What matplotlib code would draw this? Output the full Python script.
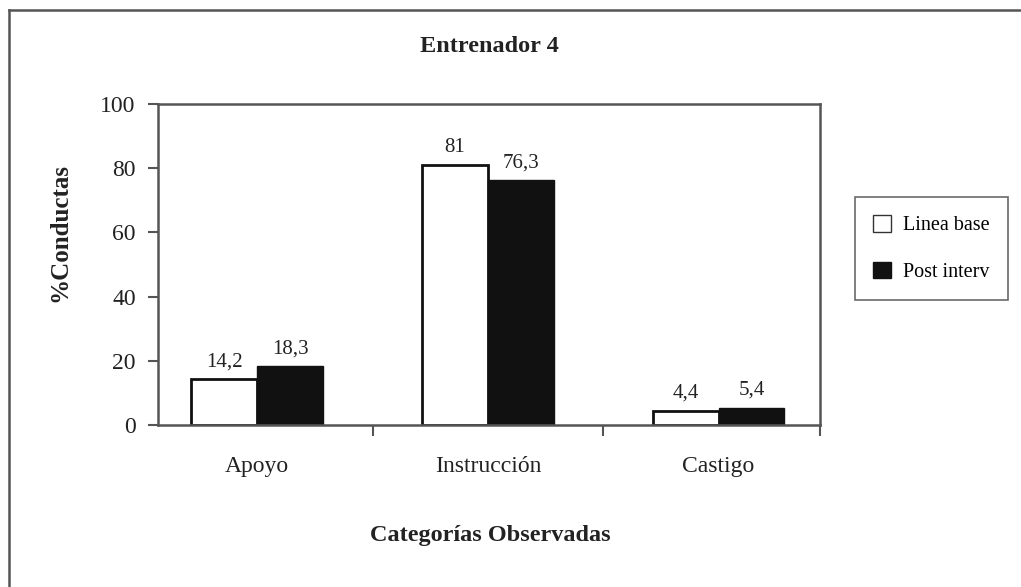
import matplotlib
matplotlib.use("Agg")
import matplotlib.pyplot as plt
from matplotlib.patches import Patch
from matplotlib.lines import Line2D
import numpy as np

# data
categorias = ["Apoyo", "Instrucción", "Castigo"]
linea_base = [14.2, 81, 4.4]
post_interv = [18.3, 76.3, 5.4]
etiq_base = ["14,2", "81", "4,4"]
etiq_post = ["18,3", "76,3", "5,4"]
y_ticks = [0, 20, 40, 60, 80, 100]

plt.rcParams["font.family"] = ["Liberation Serif", "DejaVu Serif"]

W, H = 1021, 587
fig = plt.figure(figsize=(W / 100, H / 100), dpi=100)
ax = fig.add_axes([158 / W, 1 - 425 / H, 662 / W, 321 / H])

x = np.arange(len(categorias))
w = 0.286
ax.bar(x - w / 2, linea_base, w, color="white", edgecolor="#111111", linewidth=2)
ax.bar(x + w / 2, post_interv, w, color="#111111", edgecolor="#111111", linewidth=1)

for xi, v, t in zip(x - w / 2, linea_base, etiq_base):
    ax.text(xi, v + 2.5, t, ha="center", va="bottom", fontsize=15, color="#222222")
for xi, v, t in zip(x + w / 2, post_interv, etiq_post):
    ax.text(xi, v + 2.5, t, ha="center", va="bottom", fontsize=15, color="#222222")

ax.set_xlim(-0.43, 2.44)
ax.set_ylim(0, 100)
ax.set_yticks(y_ticks)
ax.tick_params(axis="y", direction="out", length=7, width=1.5, color="#555555",
               labelsize=17, pad=9, labelcolor="#222222")

ax.set_xticks(x)
ax.set_xticklabels(categorias, fontsize=17, color="#222222")
ax.tick_params(axis="x", which="major", length=0, pad=22)
ax.set_xticks([0.5, 1.5, 2.44], minor=True)
ax.tick_params(axis="x", which="minor", direction="out", length=8, width=1.5,
               color="#555555")

for s in ["left", "right", "top", "bottom"]:
    ax.spines[s].set_color("#555555")
    ax.spines[s].set_linewidth(1.8)

fig.text(489 / W, 1 - 47 / H, "Entrenador 4", ha="center", va="center",
         fontsize=17.5, fontweight="bold", color="#222222")
fig.text(60 / W, 1 - 232 / H, "%Conductas", ha="center", va="center",
         rotation=90, fontsize=18, fontweight="bold", color="#222222")
fig.text(490 / W, 1 - 535 / H, "Categorías Observadas", ha="center", va="center",
         fontsize=17.5, fontweight="bold", color="#222222")

handles = [Patch(facecolor="white", edgecolor="#333333", linewidth=1),
           Patch(facecolor="#111111", edgecolor="#111111")]
leg = fig.legend(handles, ["Linea base", "Post interv"],
                 loc="upper left", bbox_to_anchor=(855 / W, 1 - 197 / H),
                 frameon=True, fancybox=False, fontsize=14.5, handlelength=0.9,
                 handleheight=0.9, labelspacing=1.3, borderpad=0.9,
                 handletextpad=0.6, borderaxespad=0)
leg.get_frame().set_edgecolor("#444444")
leg.get_frame().set_linewidth(1.2)

# outer frame (left and top edges)
fig.add_artist(Line2D([8.5 / W, 8.5 / W], [0, 1 - 10 / H], transform=fig.transFigure,
                      color="#555555", linewidth=1.8))
fig.add_artist(Line2D([8.5 / W, 1], [1 - 10 / H, 1 - 10 / H], transform=fig.transFigure,
                      color="#555555", linewidth=1.8))

fig.savefig("out.png", dpi=100)
